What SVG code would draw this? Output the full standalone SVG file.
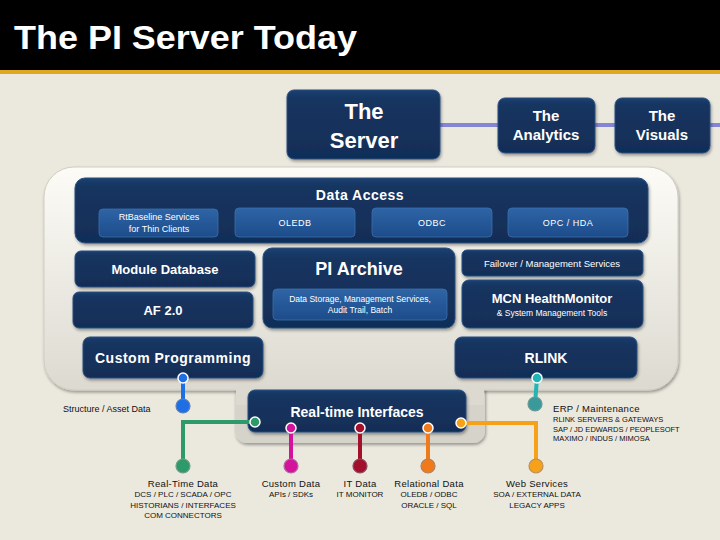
<svg xmlns="http://www.w3.org/2000/svg" width="720" height="540" viewBox="0 0 720 540">
<defs>
<linearGradient id="navy" x1="0" y1="0" x2="0" y2="1">
<stop offset="0" stop-color="#1C3F70"/>
<stop offset="0.15" stop-color="#15345F"/>
<stop offset="1" stop-color="#112E57"/>
</linearGradient>
<linearGradient id="blue" x1="0" y1="0" x2="0" y2="1">
<stop offset="0" stop-color="#2E64A6"/>
<stop offset="1" stop-color="#1D4C8A"/>
</linearGradient>
<linearGradient id="panel" x1="0" y1="0" x2="0" y2="1">
<stop offset="0" stop-color="#FCFBF6"/>
<stop offset="1" stop-color="#DCDAD0"/>
</linearGradient>
<filter id="sh" x="-10%" y="-10%" width="120%" height="130%">
<feDropShadow dx="1" dy="2" stdDeviation="1.5" flood-color="#000" flood-opacity="0.35"/>
</filter>
</defs>
<style>
.nv{fill:url(#navy);stroke:#2B4F80;stroke-width:1;filter:url(#sh)}
.lb{fill:url(#blue);stroke:#3A6EAE;stroke-width:0.8}
.w{fill:#fff;font-family:"Liberation Sans",Arial,sans-serif;text-anchor:middle}
.b{font-weight:bold}
.k{fill:#111;font-family:"Liberation Sans",Arial,sans-serif}
.c{text-anchor:middle}
.ln{fill:none;stroke-width:4}
</style>
<rect width="720" height="540" fill="#EBE8DE"/>
<rect width="720" height="70" fill="#000"/>
<rect y="70" width="720" height="4" fill="#E0A820"/>
<text x="14" y="49" fill="#fff" font-family="'Liberation Sans',Arial,sans-serif" font-size="34" font-weight="bold" textLength="343" lengthAdjust="spacingAndGlyphs">The PI Server Today</text>

<g id="connectors">
<line x1="440" y1="125" x2="720" y2="125" stroke="#8585D5" stroke-width="4"/>
</g>

<g id="server"><rect class="nv" x="287" y="90" width="153" height="69" rx="7"/>
<text class="w b" x="364" y="119" font-size="22">The</text><text class="w b" x="364" y="148" font-size="22">Server</text></g>
<g id="analytics"><rect class="nv" x="498" y="98" width="97" height="55" rx="7"/>
<text class="w b" x="546" y="121" font-size="15">The</text><text class="w b" x="546" y="140" font-size="15">Analytics</text></g>
<g id="visuals"><rect class="nv" x="615" y="98" width="95" height="55" rx="7"/>
<text class="w b" x="662" y="121" font-size="15">The</text><text class="w b" x="662" y="140" font-size="15">Visuals</text></g>

<g id="panel">
<rect x="235" y="378" width="250" height="65" rx="12" fill="#D6D4CA" filter="url(#sh)"/>
<rect x="44" y="167" width="634" height="223" rx="30" fill="url(#panel)" stroke="#D0CEC4" stroke-width="1" filter="url(#sh)"/>
<rect x="236" y="385" width="248" height="20" fill="#DCDAD0"/>
</g>

<g id="data-access"><rect class="nv" x="75" y="178" width="573" height="65" rx="10"/>
<text class="w b" x="360" y="200" font-size="14" letter-spacing="0.5">Data Access</text></g>
<g id="rtbaseline"><rect class="lb" x="99" y="209" width="119" height="28" rx="4"/>
<text class="w" x="159" y="220" font-size="9">RtBaseline Services</text><text class="w" x="159" y="232" font-size="9">for Thin Clients</text></g>
<g id="oledb"><rect class="lb" x="235" y="208" width="120" height="29" rx="4"/>
<text class="w" x="295" y="226" font-size="9" letter-spacing="0.5">OLEDB</text></g>
<g id="odbc"><rect class="lb" x="372" y="208" width="120" height="29" rx="4"/>
<text class="w" x="432" y="226" font-size="9" letter-spacing="0.5">ODBC</text></g>
<g id="opc"><rect class="lb" x="508" y="208" width="120" height="29" rx="4"/>
<text class="w" x="568" y="226" font-size="9" letter-spacing="0.5">OPC / HDA</text></g>

<g id="module-db"><rect class="nv" x="75" y="251" width="180" height="36" rx="6"/>
<text class="w b" x="165" y="274" font-size="13">Module Database</text></g>
<g id="af"><rect class="nv" x="73" y="292" width="180" height="36" rx="6"/>
<text class="w b" x="163" y="315" font-size="13">AF 2.0</text></g>
<g id="pi-archive"><rect class="nv" x="263" y="248" width="192" height="80" rx="9"/>
<text class="w b" x="359" y="275" font-size="18">PI Archive</text>
<rect class="lb" x="273" y="289" width="174" height="31" rx="4"/>
<text class="w" x="360" y="302" font-size="8.5">Data Storage, Management Services,</text>
<text class="w" x="360" y="313" font-size="8.5">Audit Trail, Batch</text></g>
<g id="failover"><rect class="nv" x="462" y="250" width="181" height="26" rx="5"/>
<text class="w" x="552" y="267" font-size="9.5">Failover / Management Services</text></g>
<g id="mcn"><rect class="nv" x="462" y="280" width="181" height="48" rx="7"/>
<text class="w b" x="552" y="303" font-size="13">MCN HealthMonitor</text>
<text class="w" x="552" y="316" font-size="8.5">&amp; System Management Tools</text></g>
<g id="custom-programming"><rect class="nv" x="83" y="337" width="180" height="41" rx="7"/>
<text class="w b" x="173" y="363" font-size="14" letter-spacing="0.5">Custom Programming</text></g>
<g id="rlink"><rect class="nv" x="455" y="337" width="182" height="41" rx="7"/>
<text class="w b" x="546" y="363" font-size="14">RLINK</text></g>
<g id="rti"><rect class="nv" x="248" y="390" width="218" height="42" rx="7"/>
<text class="w b" x="357" y="417" font-size="14">Real-time Interfaces</text></g>

<g id="links">
<polyline class="ln" stroke="#1E6FE6" points="183,378 183,406"/>
<circle cx="183" cy="378" r="5" fill="#1E6FE6" stroke="#fff" stroke-width="1.5"/>
<circle cx="183" cy="406" r="7" fill="#1E6FE6" stroke="#5C7FB8" stroke-width="1.2"/>
<polyline class="ln" stroke="#2E9A6A" points="255,422 183,422 183,466"/>
<circle cx="255" cy="422" r="5" fill="#2E9A6A" stroke="#fff" stroke-width="1.5"/>
<circle cx="183" cy="466" r="7" fill="#2E9A6A" stroke="#6F9F88" stroke-width="1.2"/>
<polyline class="ln" stroke="#D4139C" points="291,428 291,466"/>
<circle cx="291" cy="428" r="5" fill="#D4139C" stroke="#fff" stroke-width="1.5"/>
<circle cx="291" cy="466" r="7" fill="#D4139C" stroke="#B06AA0" stroke-width="1.2"/>
<polyline class="ln" stroke="#A3102C" points="360,428 360,466"/>
<circle cx="360" cy="428" r="5" fill="#A3102C" stroke="#fff" stroke-width="1.5"/>
<circle cx="360" cy="466" r="7" fill="#A3102C" stroke="#8A5060" stroke-width="1.2"/>
<polyline class="ln" stroke="#F07A1A" points="428,428 428,466"/>
<circle cx="428" cy="428" r="5" fill="#F07A1A" stroke="#fff" stroke-width="1.5"/>
<circle cx="428" cy="466" r="7" fill="#F07A1A" stroke="#B08060" stroke-width="1.2"/>
<polyline class="ln" stroke="#F5A21A" points="461,423 536,423 536,466"/>
<circle cx="461" cy="423" r="5" fill="#F5A21A" stroke="#fff" stroke-width="1.5"/>
<circle cx="536" cy="466" r="7" fill="#F5A21A" stroke="#B89060" stroke-width="1.2"/>
<polyline class="ln" stroke="#22B5B5" points="537,378 535,404"/>
<circle cx="537" cy="378" r="5" fill="#22B5B5" stroke="#fff" stroke-width="1.5"/>
<circle cx="535" cy="404" r="7" fill="#3A9A9A" stroke="#6A9898" stroke-width="1.2"/>
</g>

<g id="labels">
<text class="k" x="63" y="412" font-size="9">Structure / Asset Data</text>
<text class="k" x="553" y="412" font-size="9.5" letter-spacing="0.3">ERP / Maintenance</text>
<text class="k" x="553" y="422" font-size="7.5">RLINK SERVERS &amp; GATEWAYS</text>
<text class="k" x="553" y="432" font-size="7.5">SAP / JD EDWARDS / PEOPLESOFT</text>
<text class="k" x="553" y="441" font-size="7.5">MAXIMO / INDUS / MIMOSA</text>
<text class="k c" x="183" y="487" font-size="9.5" letter-spacing="0.3">Real-Time Data</text>
<text class="k c" x="183" y="497" font-size="8">DCS / PLC / SCADA / OPC</text>
<text class="k c" x="183" y="508" font-size="8">HISTORIANS / INTERFACES</text>
<text class="k c" x="183" y="518" font-size="8">COM CONNECTORS</text>
<text class="k c" x="291" y="487" font-size="9.5" letter-spacing="0.3">Custom Data</text>
<text class="k c" x="291" y="497" font-size="8">APIs / SDKs</text>
<text class="k c" x="360" y="487" font-size="9.5" letter-spacing="0.3">IT Data</text>
<text class="k c" x="360" y="497" font-size="8">IT MONITOR</text>
<text class="k c" x="429" y="487" font-size="9.5" letter-spacing="0.3">Relational Data</text>
<text class="k c" x="429" y="497" font-size="8">OLEDB / ODBC</text>
<text class="k c" x="429" y="508" font-size="8">ORACLE / SQL</text>
<text class="k c" x="537" y="487" font-size="9.5" letter-spacing="0.3">Web Services</text>
<text class="k c" x="537" y="497" font-size="8">SOA / EXTERNAL DATA</text>
<text class="k c" x="537" y="508" font-size="8">LEGACY APPS</text>
</g>
</svg>
